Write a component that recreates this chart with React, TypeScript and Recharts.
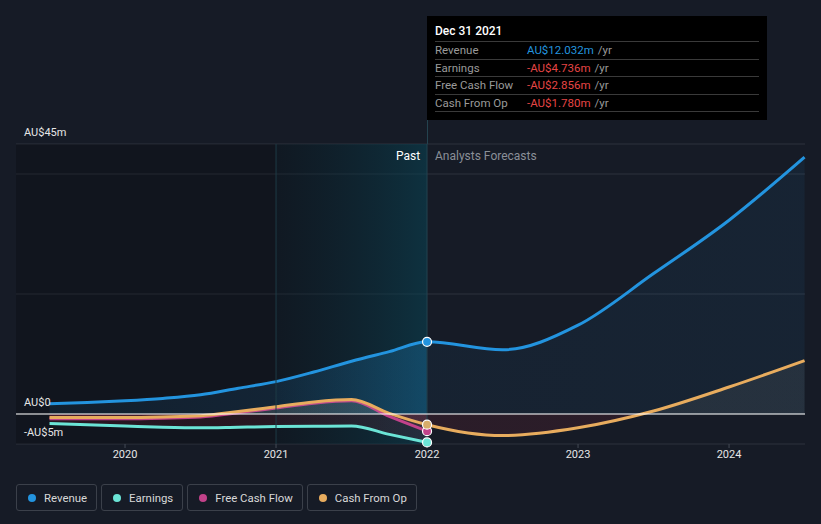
import {
  ComposedChart,
  Area,
  XAxis,
  YAxis,
  CartesianGrid,
  ReferenceArea,
  ReferenceLine,
} from "recharts";

const years = [
  2019.5, 2019.75, 2020, 2020.25, 2020.5, 2020.75, 2021, 2021.25, 2021.5,
  2021.75, 2022, 2022.5, 2023, 2023.5, 2024, 2024.5,
];
const revenue = [
  1.7, 1.9, 2.2, 2.6, 3.2, 4.3, 5.4, 7.0, 8.8, 10.4, 12.032, 10.7, 14.8, 23.4,
  32.3, 42.8,
];
const earnings = [
  -1.6, -1.8, -2.0, -2.2, -2.3, -2.2, -2.1, -2.05, -2.0, -3.4, -4.736, null,
  null, null, null, null,
];
const freeCashFlow = [
  -0.8, -0.8, -0.8, -0.7, -0.5, 0.2, 1.0, 1.8, 2.2, -0.4, -2.856, null, null,
  null, null, null,
];
const cashFromOp = [
  -0.6, -0.6, -0.6, -0.5, -0.3, 0.4, 1.2, 2.0, 2.4, 0.1, -1.78, -3.6, -2.3, 0.5,
  4.5, 8.9,
];
const xTicks = [2020, 2021, 2022, 2023, 2024];
const yTicks = [-5, 0, 20, 40, 45];
const yLabels: Record<number, string> = { 45: "AU$45m", 0: "AU$0", [-5]: "-AU$5m" };

const legendItems = [
  { name: "Revenue", color: "#2394df" },
  { name: "Earnings", color: "#6be4d6" },
  { name: "Free Cash Flow", color: "#c2428a" },
  { name: "Cash From Op", color: "#e8ac5e" },
];

const tooltipRows = [
  { label: "Revenue", value: "AU$12.032m", color: "#2394df" },
  { label: "Earnings", value: "-AU$4.736m", color: "#e64545" },
  { label: "Free Cash Flow", value: "-AU$2.856m", color: "#e64545" },
  { label: "Cash From Op", value: "-AU$1.780m", color: "#e64545" },
];

const data = years.map((year, i) => ({
  year,
  revenue: revenue[i],
  earnings: earnings[i],
  freeCashFlow: freeCashFlow[i],
  cashFromOp: cashFromOp[i],
}));

const X_MIN = 2019.278;
const X_MAX = 2024.503;

function lastDot(color: string) {
  return (props: any) => {
    const { cx, cy, payload, index } = props;
    if (payload.year !== 2022) return <g key={`d${index}`} />;
    return (
      <circle
        key={`d${index}`}
        cx={cx}
        cy={cy}
        r={4.5}
        fill={color}
        stroke="#fff"
        strokeWidth={1.2}
      />
    );
  };
}

const YTick = (props: any) => {
  const { y, payload } = props;
  const label = yLabels[payload.value];
  if (!label) return <g />;
  return (
    <text x={24} y={y - 8} fill="#e6e6e6" fontSize={11}>
      {label}
    </text>
  );
};

export default function App() {
  return (
    <div
      style={{
        position: "absolute",
        left: 0,
        top: 0,
        width: 821,
        height: 524,
        background: "#161b26",
        fontFamily: "Roboto, sans-serif",
        overflow: "hidden",
      }}
    >
      <ComposedChart
        width={821}
        height={524}
        data={data}
        margin={{ top: 144, right: 16, bottom: 50, left: 16 }}
      >
        <defs>
          <linearGradient id="pastBg" x1="0" y1="0" x2="1" y2="0">
            <stop offset="0%" stopColor="#0a3a4a" stopOpacity={0.1} />
            <stop offset="100%" stopColor="#0a5468" stopOpacity={0.45} />
          </linearGradient>
          <linearGradient
            id="revFill"
            gradientUnits="userSpaceOnUse"
            x1="16"
            y1="0"
            x2="805"
            y2="0"
          >
            <stop offset="0%" stopColor="#2394df" stopOpacity={0.12} />
            <stop offset="33%" stopColor="#2394df" stopOpacity={0.2} />
            <stop offset="52%" stopColor="#2394df" stopOpacity={0.4} />
            <stop offset="52.1%" stopColor="#2394df" stopOpacity={0.1} />
            <stop offset="100%" stopColor="#2394df" stopOpacity={0.12} />
          </linearGradient>
          <linearGradient
            id="signFill"
            gradientUnits="userSpaceOnUse"
            x1="0"
            y1="144"
            x2="0"
            y2="444"
          >
            <stop offset="0%" stopColor="#c8c4b4" stopOpacity={0.14} />
            <stop offset="90%" stopColor="#c8c4b4" stopOpacity={0.14} />
            <stop offset="90%" stopColor="#b3263a" stopOpacity={0.22} />
            <stop offset="100%" stopColor="#b3263a" stopOpacity={0.22} />
          </linearGradient>
        </defs>
        <ReferenceArea x1={X_MIN} x2={2022} fill="#000000" fillOpacity={0.2} />
        <ReferenceArea x1={2021} x2={2022} fill="url(#pastBg)" fillOpacity={1} />
        <CartesianGrid
          vertical={false}
          stroke="#2c323d"
          horizontalValues={yTicks}
        />
        <XAxis
          dataKey="year"
          type="number"
          domain={[X_MIN, X_MAX]}
          ticks={xTicks}
          height={30}
          tick={{ fill: "#e6e6e6", fontSize: 11 }}
          tickLine={{ stroke: "#444a55" }}
          tickSize={4}
          axisLine={false}
        />
        <YAxis
          type="number"
          domain={[-5, 45]}
          ticks={yTicks}
          mirror
          width={60}
          axisLine={false}
          tickLine={false}
          tick={YTick}
        />
        <ReferenceLine x={2021} stroke="#1d3a46" strokeWidth={1} />
        <ReferenceLine x={2022} stroke="#24434f" strokeWidth={1} />
        <Area
          type="monotone"
          dataKey="revenue"
          stroke="#2394df"
          strokeWidth={3}
          fill="url(#revFill)"
          dot={lastDot("#2394df")}
          activeDot={false}
          isAnimationActive={false}
        />
        <Area
          type="monotone"
          dataKey="earnings"
          stroke="#6be4d6"
          strokeWidth={3}
          fill="url(#signFill)"
          dot={lastDot("#6be4d6")}
          activeDot={false}
          isAnimationActive={false}
        />
        <Area
          type="monotone"
          dataKey="freeCashFlow"
          stroke="#c2428a"
          strokeWidth={3}
          fill="url(#signFill)"
          dot={lastDot("#c2428a")}
          activeDot={false}
          isAnimationActive={false}
        />
        <Area
          type="monotone"
          dataKey="cashFromOp"
          stroke="#e8ac5e"
          strokeWidth={3}
          fill="url(#signFill)"
          dot={lastDot("#d8ad6a")}
          activeDot={false}
          isAnimationActive={false}
        />
        <ReferenceLine y={0} stroke="#ffffff" strokeWidth={1.2} />
      </ComposedChart>

      <div
        style={{
          position: "absolute",
          left: 396,
          top: 149,
          fontSize: 12,
          color: "#ffffff",
        }}
      >
        Past
      </div>
      <div
        style={{
          position: "absolute",
          left: 435,
          top: 149,
          fontSize: 12,
          color: "#8a8f98",
        }}
      >
        Analysts Forecasts
      </div>

      <div
        style={{
          position: "absolute",
          left: 427,
          top: 120,
          width: 1,
          height: 24,
          background: "#24434f",
        }}
      />
      <div
        style={{
          position: "absolute",
          left: 427,
          top: 16,
          width: 340,
          height: 104,
          background: "#000000",
          boxSizing: "border-box",
          padding: "8px 8px 0 8px",
        }}
      >
        <div
          style={{
            fontSize: 12,
            fontWeight: 500,
            color: "#ffffff",
            height: 17,
            lineHeight: "14px",
            borderBottom: "1px solid #3a3a3a",
          }}
        >
          Dec 31 2021
        </div>
        {tooltipRows.map((r) => (
          <div
            key={r.label}
            style={{
              display: "flex",
              fontSize: 11.5,
              height: 16.5,
              lineHeight: "16.5px",
              borderBottom: "1px solid #3a3a3a",
            }}
          >
            <span style={{ width: 92, color: "#9a9a9a" }}>{r.label}</span>
            <span style={{ color: r.color }}>{r.value}</span>
            <span style={{ color: "#9a9a9a", marginLeft: 4 }}>/yr</span>
          </div>
        ))}
      </div>

      <div
        style={{
          position: "absolute",
          left: 16,
          top: 484,
          display: "flex",
          gap: 4,
        }}
      >
        {legendItems.map((it) => (
          <div
            key={it.name}
            style={{
              display: "flex",
              alignItems: "center",
              height: 27,
              boxSizing: "border-box",
              border: "1px solid #3b404a",
              borderRadius: 3,
              padding: "0 9px 0 11px",
              fontSize: 11.4,
              color: "#d8d8d8",
            }}
          >
            <span
              style={{
                width: 8,
                height: 8,
                borderRadius: 4,
                background: it.color,
                marginRight: 8,
              }}
            />
            {it.name}
          </div>
        ))}
      </div>
    </div>
  );
}
